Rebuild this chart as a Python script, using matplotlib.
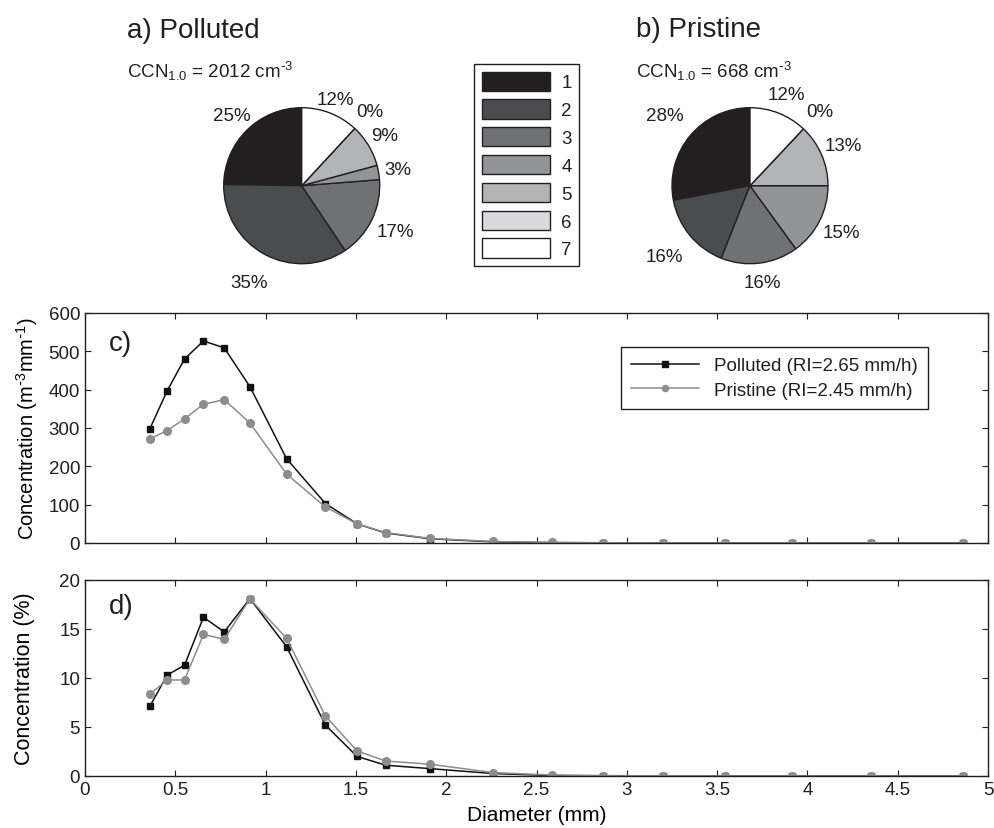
import matplotlib
matplotlib.use('Agg')
import matplotlib.pyplot as plt
import numpy as np

plt.rcParams['font.family'] = ['Liberation Sans', 'DejaVu Sans']
plt.rcParams['mathtext.default'] = 'regular'
plt.rcParams['text.color'] = '#231f20'
plt.rcParams['axes.edgecolor'] = '#231f20'
plt.rcParams['xtick.color'] = '#231f20'
plt.rcParams['ytick.color'] = '#231f20'

# ---------------- data ----------------
categories = ['1', '2', '3', '4', '5', '6', '7']
polluted_pct = [25, 35, 17, 3, 9, 0, 12]
pristine_pct = [28, 16, 16, 15, 13, 0, 12]
polluted_ccn = 2012
pristine_ccn = 668

diameter = [0.359, 0.455, 0.551, 0.656, 0.771, 0.913, 1.116, 1.331, 1.506, 1.665,
            1.912, 2.259, 2.584, 2.869, 3.198, 3.544, 3.916, 4.350, 4.859]
polluted_conc = [298, 397, 480, 527, 509, 408, 220, 103, 50, 26,
                 11, 3, 1, 0.5, 0.3, 0.2, 0.1, 0.1, 0.05]
pristine_conc = [272, 293, 324, 362, 374, 313, 180, 94, 50, 27,
                 12, 4, 1.5, 0.8, 0.4, 0.2, 0.1, 0.1, 0.05]
polluted_frac = [7.1, 10.3, 11.3, 16.2, 14.7, 18.1, 13.2, 5.2, 2.0, 1.1,
                 0.75, 0.25, 0.05, 0.02, 0.01, 0.0, 0.0, 0.0, 0.0]
pristine_frac = [8.35, 9.8, 9.8, 14.45, 13.95, 18.07, 14.05, 6.13, 2.56, 1.53,
                 1.2, 0.35, 0.1, 0.04, 0.02, 0.01, 0.0, 0.0, 0.0]
polluted_label = 'Polluted (RI=2.65 mm/h)'
pristine_label = 'Pristine (RI=2.45 mm/h)'

# ---------------- styles ----------------
pie_colors = ['#231f20', '#4b4c4e', '#707174', '#939497', '#b3b4b6', '#d9dadb', '#ffffff']
label_dist_a = [1.27, 1.41, 1.34, 1.25, 1.25, 1.29, 1.19]
label_dist_b = [1.41, 1.43, 1.25, 1.32, 1.30, 1.31, 1.26]

W, H = 994, 829
fig = plt.figure(figsize=(W / 100, H / 100), dpi=100)


def px_axes(left, top, right, bottom):
    return fig.add_axes([left / W, 1 - bottom / H, (right - left) / W, (bottom - top) / H])


FS = 13.5
R = 78.0
HALF = 120.0


def draw_pie(cx, cy, values, dists):
    ax = px_axes(cx - HALF, cy - HALF, cx + HALF, cy + HALF)
    wedges, texts = ax.pie(values, colors=pie_colors, startangle=90, counterclock=True,
                           labels=[f'{v}%' for v in values],
                           wedgeprops=dict(edgecolor='#231f20', linewidth=1.0),
                           textprops=dict(fontsize=FS))
    for w, t, d in zip(wedges, texts, dists):
        th = np.deg2rad((w.theta1 + w.theta2) / 2)
        t.set_position((d * np.cos(th), d * np.sin(th)))
        t.set_ha('center')
        t.set_va('center')
    lim = HALF / R
    ax.set_aspect('equal')
    ax.set_xlim(-lim, lim)
    ax.set_ylim(-lim, lim)
    ax.axis('off')
    return wedges


wedges_a = draw_pie(301.7, 186.7, polluted_pct, label_dist_a)
wedges_b = draw_pie(750.0, 186.7, pristine_pct, label_dist_b)

fig.text(127 / W, 1 - 38 / H, 'a) Polluted', fontsize=20, va='baseline', ha='left')
fig.text(127 / W, 1 - 78 / H, r'CCN$_{1.0}$ = %d cm$^{\text{-}3}$' % polluted_ccn,
         fontsize=FS, va='baseline', ha='left')
fig.text(636 / W, 1 - 37 / H, 'b) Pristine', fontsize=20, va='baseline', ha='left')
fig.text(636 / W, 1 - 78 / H, r'CCN$_{1.0}$ = %d cm$^{\text{-}3}$' % pristine_ccn,
         fontsize=FS, va='baseline', ha='left')

leg = fig.legend(wedges_a, categories, loc='upper left',
                 bbox_to_anchor=(474 / W, 1 - 65 / H), borderaxespad=0,
                 fontsize=FS, handlelength=3.65, handleheight=1.2, labelspacing=0.42,
                 handletextpad=0.6, borderpad=0.4, fancybox=False, framealpha=1)
leg.get_frame().set_edgecolor('#231f20')
leg.get_frame().set_linewidth(1.0)

# ---------------- panel c ----------------
ax_c = px_axes(85, 314, 988, 544)
ax_d = px_axes(85, 581, 988, 777)

for ax in (ax_c, ax_d):
    ax.tick_params(direction='in', top=True, right=True, length=4.5, width=0.8,
                   labelsize=FS, pad=3.5)
    for s in ax.spines.values():
        s.set_linewidth(1.0)
    ax.set_xlim(0, 5)
    ax.set_xticks(np.arange(0, 5.01, 0.5))

ax_c.plot(diameter, polluted_conc, color='#111111', lw=1.1, marker='s', ms=5,
          mfc='#111111', mec='#111111', label=polluted_label)
ax_c.plot(diameter, pristine_conc, color='#8c8d8f', lw=1.1, marker='o', ms=5.5,
          mfc='#8c8d8f', mec='#8c8d8f', label=pristine_label)
ax_c.set_ylim(0, 600)
ax_c.set_yticks(np.arange(0, 601, 100))
ax_c.tick_params(labelbottom=False)
ax_c.set_ylabel(r'Concentration (m$^{\text{-}3}$mm$^{\text{-}1}$)', fontsize=14.5, va='top')
ax_c.yaxis.set_label_coords((14 - 85) / 903, 0.5)
ax_c.text((109 - 85) / 903, 0.87, 'c)', transform=ax_c.transAxes, fontsize=20,
          ha='left', va='center')
lg = ax_c.legend(loc='upper right', bbox_to_anchor=((928 - 85) / 903, 1 - (347.7 - 314) / 230),
                 borderaxespad=0, fontsize=FS, handlelength=3.6, handletextpad=0.8,
                 borderpad=0.55, labelspacing=0.4, fancybox=False, framealpha=1,
                 numpoints=1, markerscale=0.8)
lg.get_frame().set_edgecolor('#231f20')
lg.get_frame().set_linewidth(1.0)

# ---------------- panel d ----------------
ax_d.plot(diameter, polluted_frac, color='#111111', lw=1.1, marker='s', ms=5,
          mfc='#111111', mec='#111111')
ax_d.plot(diameter, pristine_frac, color='#8c8d8f', lw=1.1, marker='o', ms=5.5,
          mfc='#8c8d8f', mec='#8c8d8f')
ax_d.set_ylim(0, 20)
ax_d.set_yticks(np.arange(0, 21, 5))
ax_d.set_xticklabels(['0', '0.5', '1', '1.5', '2', '2.5', '3', '3.5', '4', '4.5', '5'])
ax_d.set_ylabel('Concentration (%)', fontsize=15.5, va='top')
ax_d.yaxis.set_label_coords((14 - 85) / 903, 0.5)
ax_d.set_xlabel('Diameter (mm)', fontsize=15, labelpad=5)
ax_d.text((109 - 85) / 903, 0.869, 'd)', transform=ax_d.transAxes, fontsize=20,
          ha='left', va='center')

fig.savefig('out.png', dpi=100)
